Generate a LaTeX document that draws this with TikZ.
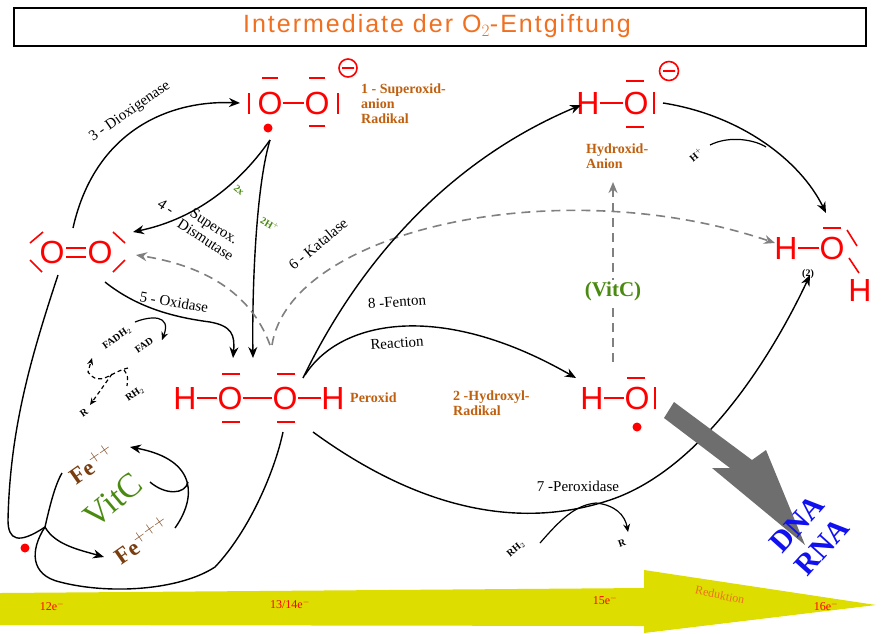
\documentclass[tikz,border=0pt]{standalone}
\usepackage{fontspec}
\setmainfont{Liberation Serif}
\setsansfont{Liberation Sans}
\usetikzlibrary{arrows.meta}
\definecolor{orlbl}{HTML}{C0600F}
\definecolor{ttl}{HTML}{F07020}
\definecolor{fe}{HTML}{7A3D10}
\definecolor{vitc}{HTML}{4A8A10}
\definecolor{ylw}{HTML}{DDDD00}
\definecolor{dna}{HTML}{1010F0}
\definecolor{dmg}{HTML}{6E6E6E}
\tikzset{
  atom/.style={text=red, font=\sffamily\fontsize{32}{32}\selectfont, inner sep=0pt},
  bond/.style={red, line width=2.4pt},
  molname/.style={text=orlbl, font=\bfseries\fontsize{14}{15}\selectfont, align=left, inner sep=1pt},
  enz/.style={font=\fontsize{15}{16}\selectfont, inner sep=1pt},
  small lbl/.style={font=\bfseries\fontsize{10}{11}\selectfont, inner sep=0pt},
  rxn/.style={black, line width=1.4pt, -{Stealth[length=11pt,width=9pt]}},
  kat/.style={gray, line width=1.6pt, dash pattern=on 9pt off 6pt, -{Stealth[length=11pt,width=9pt]}},
  eln/.style={text=red, font=\fontsize{12}{12}\selectfont, inner sep=0pt}
}
\begin{document}
\begin{tikzpicture}[x=1pt,y=-1pt]
  \useasboundingbox (0,0) rectangle (882,633);
  \fill[white] (0,0) rectangle (882,633);
  % title
  \draw[line width=1.6pt] (14,8) rectangle (866,46);
  \node[text=ttl, font=\sffamily\fontsize{25}{25}\selectfont\addfontfeatures{LetterSpace=8}] (title) at (437,26) {Intermediate der O$_2$-Entgiftung};
  % reduction arrow
  \fill[ylw] (0,593) -- (644,588) -- (644,570) -- (876,605) -- (644,633) -- (644,626) -- (0,625) -- cycle;
  \node[eln] (e12) at (52,606) {12e$^{-}$};
  \node[eln] (e13) at (290,604) {13/14e$^{-}$};
  \node[eln] (e15) at (605,600) {15e$^{-}$};
  \node[eln, text=ttl, rotate=-12] (red) at (720,595) {Reduktion};
  \node[eln] (e16) at (826,606) {16e$^{-}$};

  % superoxide anion
  \node[atom] (so1) at (270,103) {O};
  \node[atom] (so2) at (317,103) {O};
  \draw[bond] (so1) -- (so2);
  \draw[bond] (249,93) -- (249,114) (338,93) -- (338,114);
  \draw[bond] (262,78) -- (278,78) (309,78) -- (325,78) (309,126) -- (325,126);
  \fill[red] (268,128) circle (4.5);
  \draw[red, line width=1.6pt] (348,68) circle (9) (342,68) -- (354,68);
  \node[molname, anchor=west] (superox) at (360,104) {1 - Superoxid-\\anion\\Radikal};

  % dioxygen
  \node[atom] (ox1) at (52,252) {O};
  \node[atom] (ox2) at (100,252) {O};
  \draw[bond] (66,248) -- (86,248) (66,257) -- (86,257);
  \draw[red, line width=1.6pt] (30,243) -- (43,232) (30,260) -- (42,272) (113,232) -- (125,243) (113,272) -- (125,260);

  % peroxide
  \node[atom] (ph1) at (185,398) {H};
  \node[atom] (po1) at (230,398) {O};
  \node[atom] (po2) at (285,398) {O};
  \node[atom] (ph2) at (333,398) {H};
  \draw[bond] (ph1) -- (po1) (po1) -- (po2) (po2) -- (ph2);
  \draw[bond] (222,374) -- (240,374) (277,374) -- (295,374) (222,422) -- (240,422) (277,422) -- (295,422);
  \node[molname, anchor=west] (perox) at (349,398) {Peroxid};

  % hydroxide anion
  \node[atom] (ah) at (588,103) {H};
  \node[atom] (ao) at (636,103) {O};
  \draw[bond] (ah) -- (ao) (654,92) -- (654,114) (626,81) -- (644,81) (626,127) -- (644,127);
  \draw[red, line width=1.6pt] (669,71) circle (9.5) (663,71) -- (675,71);
  \node[molname, anchor=west] (anion) at (585,156) {Hydroxid-\\Anion};

  % hydroxyl radical
  \node[atom] (rh) at (592,398) {H};
  \node[atom] (ro) at (637,398) {O};
  \draw[bond] (rh) -- (ro) (655,387) -- (655,409) (627,378) -- (645,378);
  \fill[red] (637,427) circle (4.5);
  \node[molname, anchor=west] (hydroxyl) at (452,403) {2 -Hydroxyl-\\Radikal};

  % water
  \node[atom] (wh1) at (786,248) {H};
  \node[atom] (wo) at (832,248) {O};
  \node[atom] (wh2) at (860,290) {H};
  \draw[bond] (wh1) -- (wo) (823,228) -- (841,228);
  \draw[red, line width=1.6pt] (847,230) -- (857,246) (849,258) -- (859,273);
  \node[small lbl] (two) at (808,274) {(2)};

  % 3 - Dioxigenase
  \draw[rxn] (73,228) .. controls (95,130) and (170,100) .. (240,103);
  \node[enz, rotate=35] (dioxi) at (130,112) {3 - Dioxigenase};
  % 4 - Superox. Dismutase
  \draw[rxn] (270,140) .. controls (235,190) and (190,220) .. (133,232);
  \draw[rxn] (270,140) .. controls (255,190) and (252,300) .. (253,358);
  \node[enz, rotate=-33] (sod4) at (166,207) {4 -};
  \node[enz, rotate=-33, align=center] (sod) at (210,233) {Superox.\\Dismutase};
  \node[small lbl, text=vitc, rotate=-40] (twox) at (239,190) {2x};
  \node[small lbl, text=vitc, rotate=-30] (twoh) at (270,224) {2H$^{+}$};
  % 5 - Oxidase
  \draw[rxn] (105,282) .. controls (140,310) and (180,318) .. (210,322) .. controls (232,326) and (235,335) .. (233,358);
  \node[enz, rotate=-10] (oxid) at (174,302) {5 - Oxidase};
  \draw[rxn, line width=1.2pt, -{Stealth[length=8pt,width=7pt]}] (135,322) .. controls (150,316) and (172,314) .. (162,340);
  \node[small lbl, rotate=35] (fadh) at (117,338) {FADH$_2$};
  \node[small lbl, rotate=35] (fad) at (144,345) {FAD};
  \draw[line width=1.2pt, dash pattern=on 4pt off 3pt, -{Stealth[length=7pt,width=6pt]}] (128,368) .. controls (110,372) and (100,388) .. (88,372) -- (92,358);
  \draw[line width=1.2pt, dash pattern=on 4pt off 3pt, -{Stealth[length=7pt,width=6pt]}] (112,374) -- (90,405);
  \draw[line width=1.2pt, dash pattern=on 4pt off 3pt] (124,370) .. controls (128,376) .. (127,386);
  \node[small lbl, rotate=35] (rh2a) at (135,394) {RH$_2$};
  \node[small lbl, rotate=35] (ra) at (84,413) {R};
  % 6 - Katalase
  \draw[kat] (270,345) .. controls (250,290) and (200,265) .. (136,255);
  \draw[kat] (272,345) .. controls (290,230) and (560,170) .. (775,243);
  \node[enz, rotate=40] (kata) at (318,244) {6 - Katalase};
  % 8 - Fenton
  \draw[rxn] (303,378) .. controls (360,260) and (450,160) .. (581,105);
  \draw[rxn] (305,375) .. controls (340,320) and (440,300) .. (576,378);
  \node[enz, rotate=4] (fent) at (397,302) {8 -Fenton};
  \node[enz, rotate=4] (reac) at (397,343) {Reaction};
  % hydroxide -> water
  \draw[rxn] (663,103) .. controls (740,115) and (800,160) .. (826,213);
  \draw[line width=1.2pt] (710,145) .. controls (730,135) and (755,140) .. (766,147);
  \node[small lbl, rotate=40] (hplus) at (696,155) {H$^{+}$};
  % VitC reduction
  \draw[kat] (613,362) -- (613,182);
  \node[fill=white, text=vitc, font=\bfseries\fontsize{21}{21}\selectfont, inner sep=1pt] (vitcb) at (613,291) {(VitC)};
  % 7 - Peroxidase
  \draw[rxn] (313,432) .. controls (420,510) and (520,530) .. (610,500) .. controls (700,470) and (770,360) .. (810,275);
  \node[enz] (perox7) at (578,486) {7 -Peroxidase};
  \draw[line width=1.2pt] (540,543) .. controls (560,520) and (575,505) .. (596,503);
  \draw[rxn, line width=1.2pt, -{Stealth[length=8pt,width=7pt]}] (596,503) .. controls (615,505) and (625,515) .. (628,532);
  \node[small lbl, rotate=40] (rh2b) at (516,549) {RH$_2$};
  \node[small lbl, rotate=20] (rb) at (622,543) {R};
  % damage arrow
  \fill[dmg] (674,402) -- (752,460) -- (766,450) -- (805,545) -- (712,468) -- (730,468) -- (664,418) -- cycle;
  \node[text=dna, font=\bfseries\fontsize{30}{30}\selectfont, rotate=48] (dnat) at (797,524) {DNA};
  \node[text=dna, font=\bfseries\fontsize{30}{30}\selectfont, rotate=48] (rnat) at (822,547) {RNA};

  % iron / vitamin C cycle
  \draw[line width=1.4pt] (58,275) .. controls (30,360) and (10,430) .. (8,520) .. controls (8,540) and (18,545) .. (45,527);
  \fill[red] (25,548) circle (4.5);
  \draw[line width=1.4pt] (45,527) .. controls (50,505) and (55,485) .. (62,473);
  \draw[rxn] (45,527) .. controls (55,545) and (80,550) .. (104,557);
  \draw[line width=1.4pt] (45,527) .. controls (30,550) and (30,575) .. (60,582) .. controls (110,595) and (180,590) .. (215,567) .. controls (250,530) and (275,470) .. (283,432);
  \draw[rxn] (175,528) .. controls (195,500) and (200,460) .. (130,447);
  \draw[line width=1.4pt] (150,482) .. controls (165,495) and (185,495) .. (188,482);
  \node[text=fe, font=\bfseries\fontsize{23}{23}\selectfont, rotate=35] (fe2) at (92,464) {Fe$^{++}$};
  \node[text=vitc, font=\fontsize{34}{34}\selectfont, rotate=40] (vitcl) at (113,500) {VitC};
  \node[text=fe, font=\bfseries\fontsize{23}{23}\selectfont, rotate=35] (fe3) at (142,540) {Fe$^{+++}$};
\end{tikzpicture}
\end{document}
